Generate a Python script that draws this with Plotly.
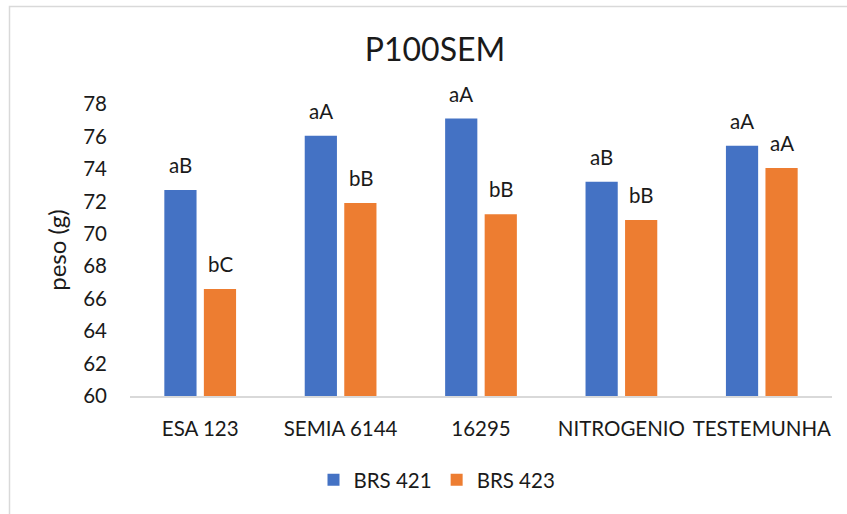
import plotly.graph_objects as go

# Data
categories = ["ESA 123", "SEMIA 6144", "16295", "NITROGENIO", "TESTEMUNHA"]
brs421 = [72.7, 76.05, 77.1, 73.2, 75.43]
brs423 = [66.6, 71.9, 71.2, 70.85, 74.05]
labels421 = ["aB", "aA", "aA", "aB", "aA"]
labels423 = ["bC", "bB", "bB", "bB", "aA"]

FONT = "Lato"
FS = 20.5
TXT = "#1a1a1a"
BLUE = "#4472C4"
ORANGE = "#ED7D31"

fig = go.Figure()
fig.add_trace(go.Bar(name="BRS 421", x=categories, y=brs421,
                     marker=dict(color=BLUE, line=dict(width=0))))
fig.add_trace(go.Bar(name="BRS 423", x=categories, y=brs423,
                     marker=dict(color=ORANGE, line=dict(width=0))))

# Letter labels above each bar (x given as category index so "16295"
# is not read as a coordinate)
annotations = []
for vals, labs, dx in ((brs421, labels421, -20), (brs423, labels423, 20)):
    for i, (v, t) in enumerate(zip(vals, labs)):
        annotations.append(dict(x=i, y=v, text=t, showarrow=False,
                                xshift=dx, yshift=11, yanchor="bottom",
                                font=dict(family=FONT, size=FS, color=TXT)))

W, H = 847, 514
ml, mr, mt, mb = 130, 15, 104, 118
pw, ph = W - ml - mr, H - mt - mb
bottom = H - mb

fig.update_layout(
    width=W, height=H,
    margin=dict(l=ml, r=mr, t=mt, b=mb),
    paper_bgcolor="white", plot_bgcolor="white",
    font=dict(family=FONT, size=FS, color=TXT),
    title=dict(text="P100SEM", x=435 / W, xanchor="center",
               y=1 - 50 / H, yanchor="middle", yref="container",
               font=dict(family=FONT, size=32, color=TXT)),
    barmode="group", bargap=0.437, bargroupgap=0.185,
    showlegend=True,
    legend=dict(orientation="h", x=(437 - ml) / pw, xanchor="center",
                y=-(480 - bottom) / ph, yanchor="middle",
                font=dict(family=FONT, size=FS, color=TXT),
                itemwidth=30),
    annotations=annotations,
    shapes=[dict(type="rect", xref="paper", yref="paper",
                 x0=(9.5 - ml) / pw, x1=(W + 20 - ml) / pw,
                 y0=-(H + 20 - bottom) / ph, y1=(bottom - 6.5) / ph,
                 line=dict(color="#D9D9D9", width=1.5), layer="below")],
)

fig.update_xaxes(type="category", categoryorder="array", categoryarray=categories,
                 range=[-0.5, len(categories) - 0.5],
                 showline=True, linecolor="#D9D9D9",
                 linewidth=1.5, showgrid=False, ticks="", ticklabelstandoff=14,
                 tickfont=dict(family=FONT, size=FS, color=TXT))
fig.update_yaxes(range=[60, 78], dtick=2, showgrid=False, zeroline=False,
                 showline=False, ticks="", ticklabelstandoff=22,
                 tickfont=dict(family=FONT, size=FS, color=TXT),
                 title=dict(text="peso (g)", standoff=9,
                            font=dict(family=FONT, size=24, color=TXT)))

fig.write_html("out.html")
